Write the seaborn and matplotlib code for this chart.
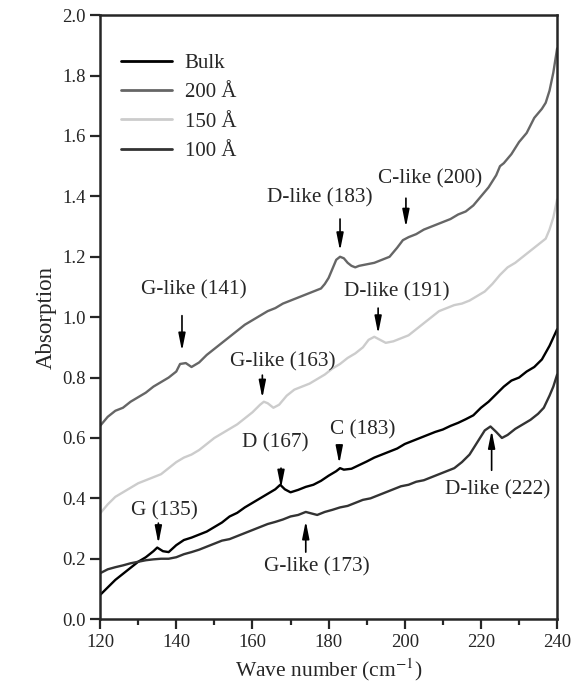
import pandas as pd
import matplotlib
matplotlib.use('Agg')
import matplotlib.pyplot as plt
import seaborn as sns

# ---------------------------------------------------------
# Data
# ---------------------------------------------------------

bulk_x = [120, 122, 124, 126, 128, 130, 132, 134, 135, 136.5, 138, 140, 142, 144, 146, 148,
          150, 152, 154, 156, 158, 160, 162, 164, 166, 167.3, 168.5, 170, 172, 174, 176, 178,
          180, 182, 183, 184, 186, 188, 190, 192, 194, 196, 198, 200, 202, 204, 206, 208, 210,
          212, 214, 216, 218, 220, 222, 224, 226, 228, 230, 232, 234, 236, 238, 240]
bulk_y = [0.08, 0.105, 0.13, 0.15, 0.17, 0.19, 0.205, 0.225, 0.237, 0.225, 0.222, 0.245, 0.262,
          0.27, 0.28, 0.29, 0.305, 0.32, 0.34, 0.352, 0.37, 0.385, 0.40, 0.415, 0.43, 0.445,
          0.43, 0.42, 0.428, 0.438, 0.445, 0.458, 0.475, 0.49, 0.50, 0.495, 0.498, 0.51, 0.522,
          0.535, 0.545, 0.555, 0.565, 0.58, 0.59, 0.60, 0.61, 0.62, 0.628, 0.64, 0.65, 0.662,
          0.675, 0.70, 0.72, 0.745, 0.77, 0.79, 0.80, 0.82, 0.835, 0.86, 0.905, 0.96]

a200_x = [120, 122, 124, 126, 128, 130, 132, 134, 136, 138, 140, 141, 142.5, 144, 146, 148, 150,
          152, 154, 156, 158, 160, 162, 164, 166, 168, 170, 172, 174, 176, 178, 179, 180, 181,
          182, 183, 184, 185, 186, 187, 188, 190, 192, 194, 196, 198, 199.5, 201, 203, 205, 207,
          210, 212, 214, 216, 218, 220, 222, 224, 225, 226, 228, 230, 232, 234, 236, 237, 238,
          239, 240]
a200_y = [0.64, 0.67, 0.69, 0.70, 0.72, 0.735, 0.75, 0.77, 0.785, 0.80, 0.82, 0.845, 0.848,
          0.835, 0.85, 0.875, 0.895, 0.915, 0.935, 0.955, 0.975, 0.99, 1.005, 1.02, 1.03, 1.045,
          1.055, 1.065, 1.075, 1.085, 1.095, 1.11, 1.13, 1.16, 1.19, 1.20, 1.195, 1.18, 1.17,
          1.165, 1.17, 1.175, 1.18, 1.19, 1.20, 1.23, 1.255, 1.265, 1.275, 1.29, 1.30, 1.315,
          1.325, 1.34, 1.35, 1.37, 1.40, 1.43, 1.47, 1.50, 1.51, 1.54, 1.58, 1.61, 1.66, 1.69,
          1.71, 1.75, 1.81, 1.89]

a150_x = [120, 122, 124, 126, 128, 130, 132, 134, 136, 138, 140, 142, 144, 146, 148, 150, 152,
          154, 156, 158, 160, 162, 163, 164, 165.5, 167, 169, 171, 173, 175, 177, 179, 181, 183,
          185, 187, 189, 190.5, 192, 193.5, 195, 197, 199, 201, 203, 205, 207, 209, 211, 213,
          215, 217, 219, 221, 223, 225, 227, 229, 231, 233, 235, 237, 238, 239, 240]
a150_y = [0.35, 0.38, 0.405, 0.42, 0.435, 0.45, 0.46, 0.47, 0.48, 0.50, 0.52, 0.535, 0.545,
          0.56, 0.58, 0.60, 0.615, 0.63, 0.645, 0.665, 0.685, 0.71, 0.72, 0.715, 0.70, 0.71,
          0.74, 0.76, 0.77, 0.78, 0.795, 0.81, 0.83, 0.845, 0.865, 0.88, 0.90, 0.925, 0.935,
          0.925, 0.915, 0.92, 0.93, 0.94, 0.96, 0.98, 1.00, 1.02, 1.03, 1.04, 1.045, 1.055,
          1.07, 1.085, 1.11, 1.14, 1.165, 1.18, 1.20, 1.22, 1.24, 1.26, 1.29, 1.33, 1.39]

a100_x = [120, 122, 124, 126, 128, 130, 132, 134, 136, 138, 140, 142, 144, 146, 148, 150, 152,
          154, 156, 158, 160, 162, 164, 166, 168, 170, 172, 174, 175.5, 177, 179, 181, 183, 185,
          187, 189, 191, 193, 195, 197, 199, 201, 203, 205, 207, 209, 211, 213, 215, 217, 219,
          221, 222.5, 224, 225.5, 227, 229, 231, 233, 235, 236.5, 238, 239, 240]
a100_y = [0.152, 0.165, 0.172, 0.178, 0.185, 0.19, 0.195, 0.198, 0.20, 0.20, 0.205, 0.215,
          0.222, 0.23, 0.24, 0.25, 0.26, 0.265, 0.275, 0.285, 0.295, 0.305, 0.315, 0.322, 0.33,
          0.34, 0.345, 0.355, 0.35, 0.345, 0.355, 0.362, 0.37, 0.375, 0.385, 0.395, 0.40, 0.41,
          0.42, 0.43, 0.44, 0.445, 0.455, 0.46, 0.47, 0.48, 0.49, 0.50, 0.52, 0.545, 0.585,
          0.625, 0.638, 0.62, 0.60, 0.61, 0.63, 0.645, 0.66, 0.68, 0.70, 0.74, 0.77, 0.81]

# peak labels: text, text centre (x, y), arrow x, arrow start y, arrow tip y
notes_text = ['G (135)', 'D (167)', 'C (183)', 'G-like (173)', 'D-like (222)',
              'G-like (163)', 'D-like (191)', 'G-like (141)', 'D-like (183)', 'C-like (200)']
notes_tx = [137, 166, 189, 176.8, 224.3, 167.9, 198, 144.6, 177.8, 206.7]
notes_ty = [0.358, 0.583, 0.626, 0.172, 0.427, 0.851, 1.083, 1.089, 1.394, 1.457]
notes_x = [135.3, 167.5, 182.8, 174, 222.8, 162.6, 193, 141.5, 183, 200.3]
notes_y0 = [0.318, 0.50, 0.576, 0.222, 0.493, 0.808, 1.03, 1.005, 1.325, 1.394]
notes_y1 = [0.25, 0.434, 0.515, 0.325, 0.625, 0.732, 0.945, 0.888, 1.22, 1.298]

# ---------------------------------------------------------
# Plot
# ---------------------------------------------------------
sns.set_style('ticks')
plt.rcParams['font.family'] = ['Liberation Serif', 'DejaVu Serif']
plt.rcParams['mathtext.fontset'] = 'stix'

fig, ax = plt.subplots(figsize=(5.72, 6.91), dpi=100)
fig.subplots_adjust(left=0.175, right=0.974, top=0.978, bottom=0.104)

series = [('Bulk', bulk_x, bulk_y, '#000000'),
          ('200 Å', a200_x, a200_y, '#666666'),
          ('150 Å', a150_x, a150_y, '#cccccc'),
          ('100 Å', a100_x, a100_y, '#333333')]
for name, xs, ys, col in series:
    sns.lineplot(x=xs, y=ys, ax=ax, color=col, lw=1.7, label=name, sort=False)

# peak annotations with thin filled arrows
for t, tx, ty, x, y0, y1 in zip(notes_text, notes_tx, notes_ty, notes_x, notes_y0, notes_y1):
    ax.text(tx, ty, t, ha='center', va='center', fontsize=15.3)
    ax.annotate('', xy=(x, y1), xytext=(x, y0),
                arrowprops=dict(arrowstyle='-|>,head_length=0.8,head_width=0.16',
                                color='black', lw=1.2, mutation_scale=13,
                                shrinkA=0, shrinkB=0))

ax.set_xlim(120, 240)
ax.set_ylim(0, 2.0)
ax.set_xticks(range(120, 241, 20))
ax.set_xticks(range(130, 240, 20), minor=True)
ax.set_yticks([i / 5 for i in range(11)])
ax.set_yticklabels([f'{i / 5:.1f}' for i in range(11)])
ax.tick_params(which='major', direction='out', length=7, width=1.6, labelsize=13.5)
ax.tick_params(which='minor', direction='out', length=4, width=1.6)
for sp in ax.spines.values():
    sp.set_linewidth(1.8)
ax.set_xlabel('Wave number (cm$^{-1}$)', fontsize=15.5)
ax.set_ylabel('Absorption', fontsize=16.5)

leg = ax.legend(loc='upper left', frameon=False, fontsize=15, handlelength=2.45,
                handletextpad=0.6, bbox_to_anchor=(0.005, 0.968), labelspacing=0.47)
for line in leg.get_lines():
    line.set_linewidth(2)

plt.savefig('out.png', dpi=100)
